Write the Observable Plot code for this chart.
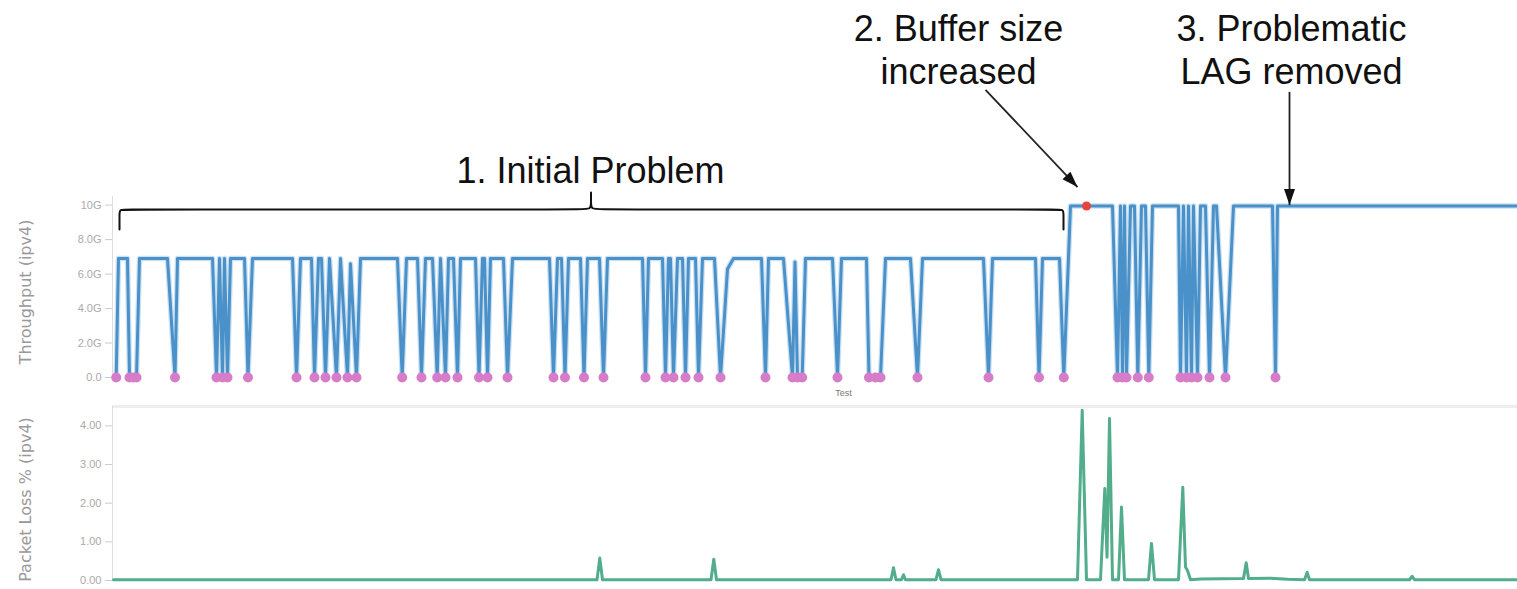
<!DOCTYPE html>
<html>
<head>
<meta charset="utf-8">
<script src="https://cdn.jsdelivr.net/npm/d3@7"></script>
<script src="https://cdn.jsdelivr.net/npm/@observablehq/plot@0.6"></script>
<style>
  html, body { margin: 0; padding: 0; background: #fff; overflow: hidden; }
  #chart svg { display: block; }
</style>
</head>
<body>
<div id="chart"></div>
<script>
// ---------- data ----------
// Throughput (ipv4), in Gbit/s, at breakpoints of the test sequence
const throughputTest = [3.7,6,15,17,21,24,27,55,62.5,65,100,104,107,110,112,115,118,132,135.5,140,180,184,188,199,202,206,209,213,217,224,228,235,238,244,248,285,289.7,294,305,309,313,320,324.7,328,333,336,341,345,348,363,366.5,370,372,375,378,391,395,400,437,441,445,449,452.5,456,468,471.5,475,487,491,495,530,533,536,550,553,556,558,561,565,570,573,576,583,586,590,602,608,615,621,649,653,656,671,680,682.5,685,689.7,693,720,725,729,754,756.5,763,768,773,798,805,810,871,876,880,923,926.5,930,947,951.3,958,1000,1005,1008,1010,1012,1014,1018,1022,1025.3,1029,1033,1036.3,1040,1066,1068,1071,1074,1076,1079,1081,1085,1088,1093,1097,1101,1104,1113,1121,1160,1163,1165,1405];
const throughputGbps = [0,6.9,6.9,0,0,0,6.9,6.9,0,6.9,6.9,0,6.9,0,6.9,0,6.9,6.9,0,6.9,6.9,0,6.9,6.9,0,6.9,6.9,0,6.9,0,6.9,0,6.6,0,6.9,6.9,0,6.9,6.9,0,6.9,6.9,0,6.9,0,6.9,6.9,0,6.9,6.9,0,6.9,6.9,0,6.9,6.9,0,6.9,6.9,0,6.9,6.9,0,6.9,6.9,0,6.9,6.9,0,6.9,6.9,0,6.9,6.9,0,6.9,6.9,0,6.9,6.9,0,6.9,6.9,0,6.9,6.9,0,6.3,6.9,6.9,0,6.9,6.9,0,6.7,0,0,6.9,6.9,0,6.9,6.9,0,0,0,6.9,6.9,0,6.9,6.9,0,6.9,6.9,0,6.9,6.9,0,9.95,9.95,0,9.95,0,9.95,0,9.95,9.95,0,9.95,9.95,0,9.95,9.95,0,9.95,0,9.95,0,9.95,0,9.95,9.95,0,9.95,9.95,0,9.95,9.95,0,9.95,9.95];

// Highlighted sample (red marker)
const markerTest = [974];
const markerGbps = [9.95];

// Packet loss % (ipv4)
const lossTest = [1,484.5,487.3,490,598.5,601.3,604,778.5,781,783.5,789,791,793,823.5,826,828.5,965,969.7,974,988,992.3,994.5,997,1000,1006,1009,1012,1036,1039,1042,1066,1070.3,1073,1075,1078,1088,1131,1133.7,1136,1158,1175,1192,1194.7,1197,1297,1299.7,1302,1405];
const lossPct = [0.02,0.02,0.58,0.02,0.02,0.55,0.02,0.02,0.33,0.02,0.02,0.15,0.02,0.02,0.28,0.02,0.02,4.4,0.02,0.02,2.38,0.6,4.19,0.02,0.02,1.9,0.02,0.02,0.96,0.02,0.02,2.41,0.35,0.26,0.02,0.04,0.05,0.46,0.05,0.06,0.03,0.02,0.21,0.02,0.02,0.11,0.02,0.02];

// Axis ticks
const throughputTicks = [0, 2, 4, 6, 8, 10];
const throughputTickLabels = ["0.0", "2.0G", "4.0G", "6.0G", "8.0G", "10G"];
const lossTicks = [0, 1, 2, 3, 4];
const lossTickLabels = ["0.00", "1.00", "2.00", "3.00", "4.00"];

// Annotations
const annotationText = ["1. Initial Problem", "2. Buffer size\nincreased", "3. Problematic\nLAG removed"];
const annotationTest = [478, 846, 1179];
const annotationLevel = [12.11, 19.1, 19.1];
const arrowFromTest = [873, 1177];
const arrowFromLevel = [16.69, 16.57];
const arrowToTest = [965, 1177];
const arrowToLevel = [11.05, 10.0];
const arrowAngle = [136.5, 180];
const braceTest = [7, 7, 7, 15, 470, 478.5, 478.5, 478.5, 478.5, 478.5, 478.5, 478.5, 487, 943, 951, 951, 951];
const braceLevel = [8.59, 9.51, 9.75, 9.75, 9.75, 9.75, 10.21, 10.73, 10.73, 10.73, 10.21, 9.75, 9.75, 9.75, 9.75, 9.51, 8.59];

// ---------- tables ----------
const tp = throughputTest.map((t, i) => ({test: t, gbps: throughputGbps[i]}));
const zeros = tp.filter(d => d.gbps === 0);
const markers = markerTest.map((t, i) => ({test: t, gbps: markerGbps[i]}));
const loss = lossTest.map((t, i) => ({test: t, pct: lossPct[i]}));
const annotations = annotationText.map((s, i) => ({text: s, x: annotationTest[i], y: annotationLevel[i]}));
const arrows = arrowFromTest.map((t, i) => ({x1: t, y1: arrowFromLevel[i], x2: arrowToTest[i], y2: arrowToLevel[i], rot: arrowAngle[i]}));
const brace = braceTest.map((t, i) => ({x: t, y: braceLevel[i]}));

const arrowHead = {
  draw(ctx) {
    ctx.moveTo(0, 0);
    ctx.lineTo(-5.5, 16);
    ctx.lineTo(5.5, 16);
    ctx.closePath();
  }
};

const font = "Liberation Sans, Arial, Helvetica, sans-serif";
const axisTitleFont = "DejaVu Sans, sans-serif";
const xDomain = [0, 1405];

const topPanel = Plot.plot({
  width: 1517, height: 400,
  marginLeft: 112, marginRight: 0, marginTop: 196, marginBottom: 23,
  x: {domain: xDomain, axis: null},
  y: {domain: [0, 10.5]},
  style: {fontFamily: font, fontSize: "11px", color: "#aaa", background: "transparent", overflow: "visible"},
  marks: [
    Plot.ruleX([0], {stroke: "#ddd"}),
    Plot.axisY({ticks: throughputTicks, tickFormat: d => throughputTickLabels[throughputTicks.indexOf(d)], tickSize: 7, tickPadding: 4, label: null, stroke: "#ccc", fill: "#aaa"}),
    Plot.line(tp, {x: "test", y: "gbps", stroke: "#a9cdea", strokeWidth: 5.5, strokeOpacity: 0.6, strokeLinejoin: "round"}),
    Plot.line(tp, {x: "test", y: "gbps", stroke: "#4a90c9", strokeWidth: 3, strokeLinejoin: "round"}),
    Plot.dot(zeros, {x: "test", y: "gbps", r: 5, fill: "#d77cc9"}),
    Plot.dot(markers, {x: "test", y: "gbps", r: 4.5, fill: "#e8423c"}),
    Plot.line(brace, {x: "x", y: "y", curve: "basis", stroke: "#111", strokeWidth: 2}),
    Plot.link(arrows, {x1: "x1", y1: "y1", x2: "x2", y2: "y2", stroke: "#222", strokeWidth: 1.8}),
    Plot.dot(arrows, {x: "x2", y: "y2", rotate: "rot", symbol: arrowHead, fill: "#111", stroke: "none"}),
    Plot.text(annotations, {x: "x", y: "y", text: "text", fontSize: 36, fontFamily: font, fill: "#111", lineHeight: 1.195}),
    Plot.text(["Throughput (ipv4)"], {frameAnchor: "left", textAnchor: "middle", dx: -87, dy: 5, rotate: -90, fontSize: 16, fontFamily: axisTitleFont, fill: "#999"}),
    Plot.text([{x: 731, y: -0.93, t: "Test"}], {x: "x", y: "y", text: "t", fontSize: 9, fill: "#777"})
  ]
});

const bottomPanel = Plot.plot({
  width: 1517, height: 189,
  marginLeft: 112, marginRight: 0, marginTop: 6, marginBottom: 9,
  x: {domain: xDomain, axis: null},
  y: {domain: [0, 4.5]},
  style: {fontFamily: font, fontSize: "11px", color: "#aaa", background: "transparent", overflow: "visible"},
  marks: [
    Plot.ruleY([4.5], {stroke: "#eee", strokeWidth: 3}),
    Plot.ruleX([0], {stroke: "#ddd"}),
    Plot.axisY({ticks: lossTicks, tickFormat: d => lossTickLabels[lossTicks.indexOf(d)], tickSize: 7, tickPadding: 4, label: null, stroke: "#ccc", fill: "#aaa"}),
    Plot.line(loss, {x: "test", y: "pct", stroke: "#52ad8b", strokeWidth: 3, strokeLinejoin: "round"}),
    Plot.text(["Packet Loss % (ipv4)"], {frameAnchor: "left", textAnchor: "middle", dx: -87, dy: 6, rotate: -90, fontSize: 16, fontFamily: axisTitleFont, fill: "#999"})
  ]
});

const chart = document.getElementById("chart");
chart.appendChild(topPanel);
chart.appendChild(bottomPanel);
</script>
</body>
</html>
